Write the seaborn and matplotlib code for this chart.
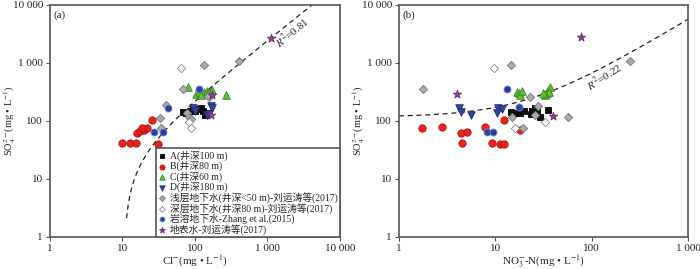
import numpy as np
import pandas as pd
import matplotlib
matplotlib.use('Agg')
import matplotlib.pyplot as plt
import seaborn as sns

sns.set_style('ticks')
plt.rcParams['font.family'] = ['Liberation Serif', 'Noto Sans CJK SC']
plt.rcParams['mathtext.fontset'] = 'stix'

# group names (legend order)
groups = ['A(井深100 m)', 'B(井深80 m)', 'C(井深60 m)', 'D(井深180 m)',
          '浅层地下水(井深<50 m)-刘运涛等(2017)', '深层地下水(井深80 m)-刘运涛等(2017)',
          '岩溶地下水-Zhang et al.(2015)', '地表水-刘运涛等(2017)']

# panel (a): Cl- vs SO4 2-
a_cl_A = [68, 75, 85, 95, 100, 110, 120, 130, 140, 145]
a_so4_A = [145, 140, 150, 165, 150, 160, 170, 150, 125, 140]
a_cl_B = [9.9, 12.7, 15.3, 31, 16, 17.4, 19, 20, 21.5, 25.3, 18.5]
a_so4_B = [42, 41, 41, 40, 61, 68, 73, 70, 77, 104, 75]
a_cl_C = [81, 105, 115, 125, 135, 145, 160, 170, 273, 120, 150]
a_so4_C = [380, 290, 310, 300, 320, 330, 310, 340, 285, 280, 300]
a_cl_D = [93, 100, 165, 170, 145, 155]
a_so4_D = [165, 150, 178, 170, 125, 130]
a_cl_sh = [133, 69, 158, 40, 33, 34, 78, 410, 83, 150, 88]
a_so4_sh = [925, 352, 256, 186, 114, 75, 139, 1080, 119, 265, 110]
a_cl_dp = [64, 83, 88]
a_so4_dp = [830, 97, 75]
a_cl_ka = [114, 43, 27.5, 36]
a_so4_ka = [356, 168, 65, 65]
a_cl_su = [1107, 170, 165]
a_so4_su = [2730, 285, 126]

# panel (b): NO3- -N vs SO4 2-
b_no3_A = [14.6, 16.4, 18, 23.4, 23.9, 25.8, 27, 29.1, 35.5, 20]
b_so4_A = [145, 140, 140, 132, 150, 166, 155, 119, 155, 150]
b_no3_B = [1.72, 2.78, 4.37, 5.1, 7.8, 12.3, 4.47, 9.2, 11.2, 12.3, 18]
b_so4_B = [77, 78, 63, 65, 80, 104, 42, 41, 40, 40, 70]
b_no3_C = [16.7, 17.5, 18, 19, 32.7, 34, 35.5, 37, 36, 33, 31]
b_so4_C = [320, 300, 282, 330, 282, 300, 343, 390, 320, 290, 300]
b_no3_D = [4.23, 4.4, 5.55, 10.7, 10.3, 11.6]
b_so4_D = [166, 145, 126, 166, 136, 159]
b_no3_sh = [1.76, 14.4, 22.9, 28, 14.8, 19.2, 25.8, 57.3, 250]
b_so4_sh = [352, 925, 256, 181, 119, 75, 126, 116, 1080]
b_no3_dp = [9.7, 16, 32.7]
b_so4_dp = [830, 77, 95]
b_no3_ka = [13.3, 17.8, 8.1, 9.4]
b_so4_ka = [352, 172, 65, 65]
b_no3_su = [4.0, 77.6, 40]
b_so4_su = [292, 2775, 123]

# linear fits shown on the chart (y = k*x + c, x range)
fit_a = (2.43, -25.6, 11.4, 4130)
fit_b = (5.55, 116.5, 1, 1000)
r2_a = 0.81
r2_b = 0.22

styles = {
    groups[0]: dict(marker='s', color='#111111', edgecolor='#000000', s=20),
    groups[1]: dict(marker='o', color='#e8231e', edgecolor='#b01010', s=28),
    groups[2]: dict(marker='^', color='#62bd38', edgecolor='#3a8a20', s=30),
    groups[3]: dict(marker='v', color='#35479a', edgecolor='#1f2c70', s=30),
    groups[4]: dict(marker='D', color='#aaaaaa', edgecolor='#777777', s=18),
    groups[5]: dict(marker='D', color='white', edgecolor='#888888', s=18),
    groups[6]: dict(marker='o', color='#2c3e9c', edgecolor='#8090d0', s=26),
    groups[7]: dict(marker='*', color='#8a4a8e', edgecolor='#6a2a6e', s=40),
}

def make_df(xs, ys):
    rows = []
    for g, x, y in zip(groups, xs, ys):
        rows.append(pd.DataFrame({'x': x, 'y': y, 'group': g}))
    return pd.concat(rows, ignore_index=True)

df_a = make_df([a_cl_A, a_cl_B, a_cl_C, a_cl_D, a_cl_sh, a_cl_dp, a_cl_ka, a_cl_su],
               [a_so4_A, a_so4_B, a_so4_C, a_so4_D, a_so4_sh, a_so4_dp, a_so4_ka, a_so4_su])
df_b = make_df([b_no3_A, b_no3_B, b_no3_C, b_no3_D, b_no3_sh, b_no3_dp, b_no3_ka, b_no3_su],
               [b_so4_A, b_so4_B, b_so4_C, b_so4_D, b_so4_sh, b_so4_dp, b_so4_ka, b_so4_su])

spine_col = '#555555'

def fmt(v):
    return '{:,}'.format(int(v)).replace(',', ' ')

fig = plt.figure(figsize=(7, 2.69), dpi=100)
ax1 = fig.add_axes([0.0714, 0.119, 0.414, 0.8625])
ax2 = fig.add_axes([0.570, 0.119, 0.413, 0.8625])

def draw(ax, df, fit, xmax):
    for g in groups:
        st = styles[g]
        sns.scatterplot(data=df[df.group == g], x='x', y='y', ax=ax, label=g,
                        marker=st['marker'], color=st['color'], edgecolor=st['edgecolor'],
                        s=st['s'], linewidth=0.6, zorder=3)
    k, c, x0, x1 = fit
    xs = np.geomspace(x0, x1, 300)
    ax.plot(xs, k * xs + c, ls=(0, (4, 3)), color='#222222', lw=0.9, zorder=2)
    ax.set_xscale('log')
    ax.set_yscale('log')
    ax.set_xlim(1, xmax)
    ax.set_ylim(1, 10000)
    xt = [10 ** i for i in range(int(np.log10(xmax)) + 1)]
    yt = [1, 10, 100, 1000, 10000]
    ax.set_xticks(xt)
    ax.set_xticklabels([fmt(v) for v in xt])
    ax.set_yticks(yt)
    ax.set_yticklabels([fmt(v) for v in yt])
    ax.minorticks_off()
    ax.tick_params(direction='out', length=3, width=0.8, color=spine_col,
                   labelsize=8, pad=2)
    for sp in ax.spines.values():
        sp.set_color(spine_col)
        sp.set_linewidth(1.2)
    ax.set_ylabel(r'SO$_4^{2-}$(mg • L$^{-1}$)', fontsize=7.5)

draw(ax1, df_a, fit_a, 10000)
draw(ax2, df_b, fit_b, 1000)

ax1.set_xlabel(r'Cl$^{-}$(mg • L$^{-1}$)', fontsize=8)
ax2.set_xlabel(r'NO$_3^{-}$-N(mg • L$^{-1}$)', fontsize=8)
ax1.xaxis.set_label_coords(0.5, -0.07)
ax2.xaxis.set_label_coords(0.5, -0.07)
ax1.yaxis.set_label_coords(-0.11, 0.5)
ax2.yaxis.set_label_coords(-0.11, 0.5)

ax1.text(0.012, 0.975, '(a)', transform=ax1.transAxes, ha='left', va='top', fontsize=8)
ax2.text(0.012, 0.975, '(b)', transform=ax2.transAxes, ha='left', va='top', fontsize=8)

ax1.text(2180, 3290, r'$R^2$=%.2f' % r2_a, rotation=40, ha='center', va='center', fontsize=8)
ax2.text(135, 574, r'$R^2$=%.2f' % r2_b, rotation=33, ha='center', va='center', fontsize=8)

ax2.get_legend().remove()
leg = ax1.legend(loc='lower right', borderaxespad=0, fontsize=7, frameon=True,
                 fancybox=False, framealpha=1, handlelength=0.8, handletextpad=0.4,
                 labelspacing=-0.02, borderpad=0.25, markerscale=0.7)
leg.get_frame().set_edgecolor(spine_col)
leg.get_frame().set_linewidth(1.2)
leg.get_frame().set_facecolor('white')
leg.set_zorder(5)

fig.savefig('out.png', dpi=100)
